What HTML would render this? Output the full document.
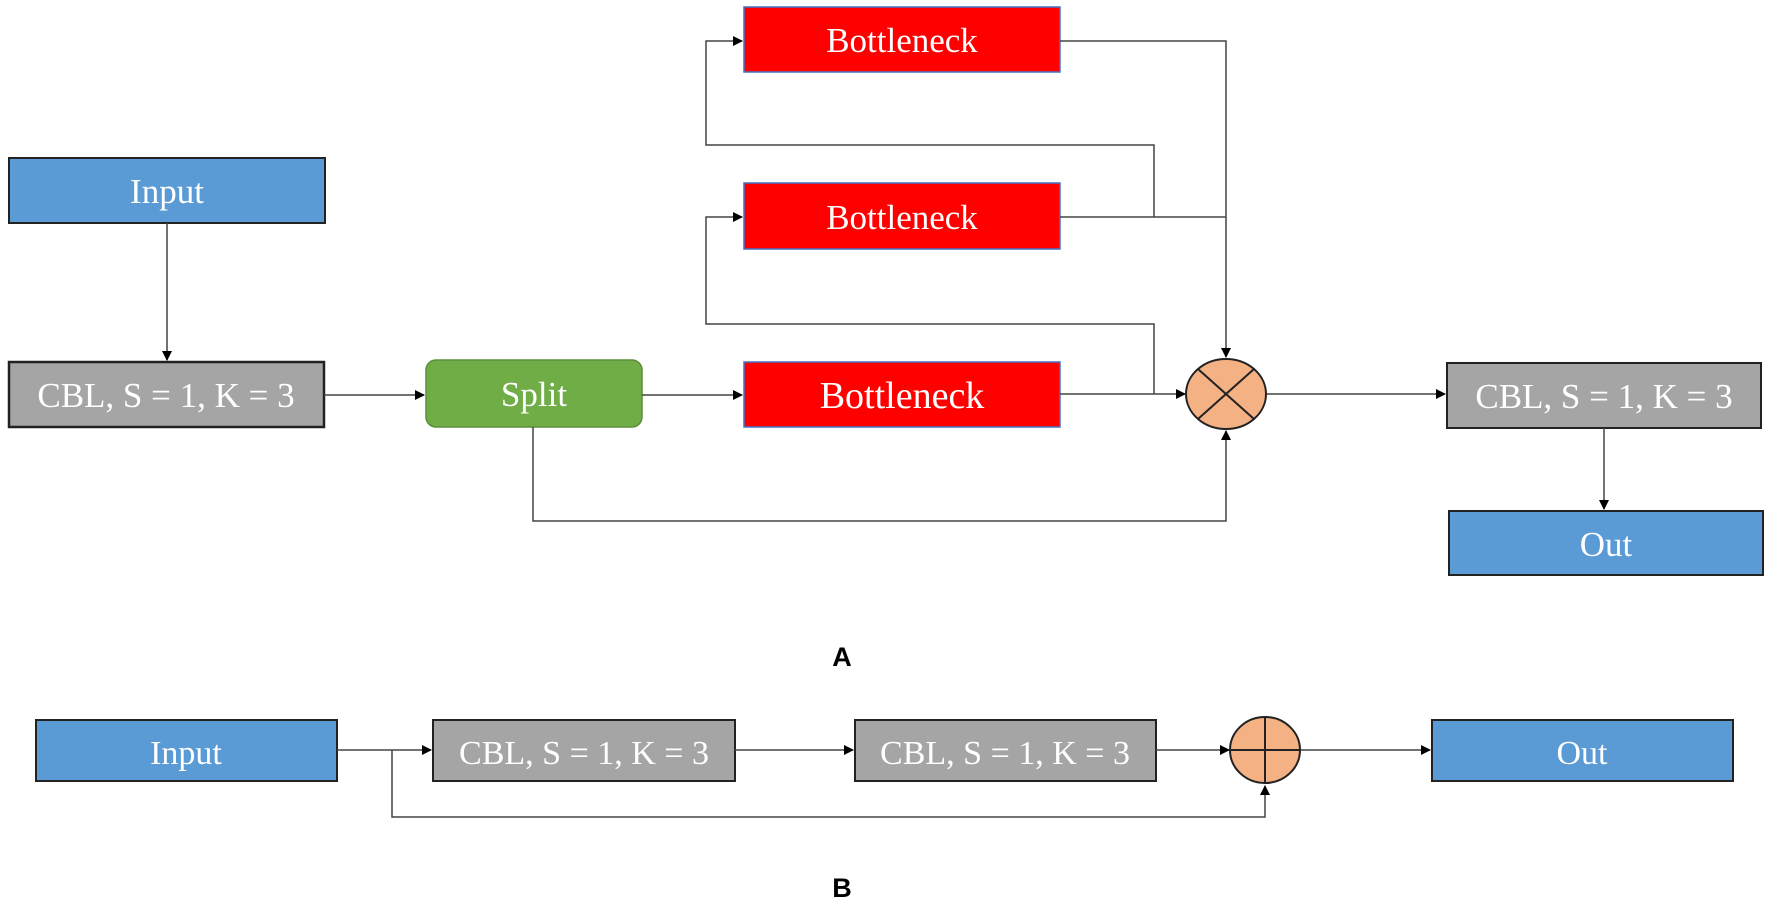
<!DOCTYPE html>
<html><head><style>body{margin:0;background:#fff}svg{display:block}</style></head><body>
<svg width="1772" height="913" viewBox="0 0 1772 913" xmlns="http://www.w3.org/2000/svg">
<defs><marker id="a" markerWidth="10" markerHeight="10" refX="9" refY="5" orient="auto" markerUnits="userSpaceOnUse"><path d="M0,0 L10,5 L0,10 z" fill="#000"/></marker></defs>
<g font-family="Liberation Serif, serif" fill="#fff" text-anchor="middle">
<rect x="9" y="158" width="316" height="65" fill="#5b9bd5" stroke="#222" stroke-width="2"/>
<text x="167" y="203" font-size="35" fill="#fff">Input</text>
<rect x="9" y="362" width="315" height="65" fill="#a5a5a5" stroke="#222" stroke-width="2.5"/>
<text x="166" y="407" font-size="35" fill="#fff">CBL, S = 1, K = 3</text>
<rect x="426" y="360" width="216" height="67" rx="10" fill="#70ad47" stroke="#5a8f3a" stroke-width="1.5"/>
<text x="534" y="406" font-size="35" fill="#fff">Split</text>
<rect x="744" y="7" width="316" height="65" fill="#ff0000" stroke="#4472c4" stroke-width="1.5"/>
<text x="902" y="52" font-size="35" fill="#fff">Bottleneck</text>
<rect x="744" y="183" width="316" height="66" fill="#ff0000" stroke="#4472c4" stroke-width="1.5"/>
<text x="902" y="229" font-size="35" fill="#fff">Bottleneck</text>
<rect x="744" y="362" width="316" height="65" fill="#ff0000" stroke="#4472c4" stroke-width="1.5"/>
<text x="902" y="408" font-size="38" fill="#fff">Bottleneck</text>
<rect x="1447" y="363" width="314" height="65" fill="#a5a5a5" stroke="#222" stroke-width="2"/>
<text x="1604" y="408" font-size="35" fill="#fff">CBL, S = 1, K = 3</text>
<rect x="1449" y="511" width="314" height="64" fill="#5b9bd5" stroke="#222" stroke-width="2"/>
<text x="1606" y="556" font-size="35" fill="#fff">Out</text>
</g>
<g stroke="#444" stroke-width="1.5" fill="none">
<path d="M167 223 V360" marker-end="url(#a)"/>
<path d="M324 395 H424" marker-end="url(#a)"/>
<path d="M642 395 H742" marker-end="url(#a)"/>
<path d="M1154 217 V145 H706 V41 H742" marker-end="url(#a)"/>
<path d="M1154 394 V324 H706 V217 H742" marker-end="url(#a)"/>
<path d="M1060 41 H1226 V357" marker-end="url(#a)"/>
<path d="M1060 217 H1226"/>
<path d="M1060 394 H1185" marker-end="url(#a)"/>
<path d="M533 427 V521 H1226 V431" marker-end="url(#a)"/>
<path d="M1266 394 H1445" marker-end="url(#a)"/>
<path d="M1604 428 V509" marker-end="url(#a)"/>
</g>
<ellipse cx="1226" cy="394" rx="40" ry="35" fill="#f4b183" stroke="#222" stroke-width="2"/>
<path d="M1198 369 L1254 419 M1254 369 L1198 419" stroke="#222" stroke-width="2"/>
<text x="842" y="666" font-family="Liberation Sans, sans-serif" font-weight="bold" font-size="27" text-anchor="middle">A</text>
<g font-family="Liberation Serif, serif" text-anchor="middle" fill="#fff">
<rect x="36" y="720" width="301" height="61" fill="#5b9bd5" stroke="#222" stroke-width="2"/>
<text x="186" y="764" font-size="34">Input</text>
<rect x="433" y="720" width="302" height="61" fill="#a5a5a5" stroke="#222" stroke-width="2"/>
<text x="584" y="764" font-size="34">CBL, S = 1, K = 3</text>
<rect x="855" y="720" width="301" height="61" fill="#a5a5a5" stroke="#222" stroke-width="2"/>
<text x="1005" y="764" font-size="34">CBL, S = 1, K = 3</text>
<rect x="1432" y="720" width="301" height="61" fill="#5b9bd5" stroke="#222" stroke-width="2"/>
<text x="1582" y="764" font-size="34">Out</text>
</g>
<g stroke="#444" stroke-width="1.5" fill="none">
<path d="M337 750 H431" marker-end="url(#a)"/>
<path d="M392 750 V817 H1265 V786" marker-end="url(#a)"/>
<path d="M735 750 H853" marker-end="url(#a)"/>
<path d="M1156 750 H1229" marker-end="url(#a)"/>
<path d="M1300 750 H1430" marker-end="url(#a)"/>
</g>
<ellipse cx="1265" cy="750" rx="35" ry="33" fill="#f4b183" stroke="#222" stroke-width="2"/>
<path d="M1230 750 H1300 M1265 717 V783" stroke="#222" stroke-width="2"/>
<text x="842" y="897" font-family="Liberation Sans, sans-serif" font-weight="bold" font-size="27" text-anchor="middle">B</text>
</svg>
</body></html>
